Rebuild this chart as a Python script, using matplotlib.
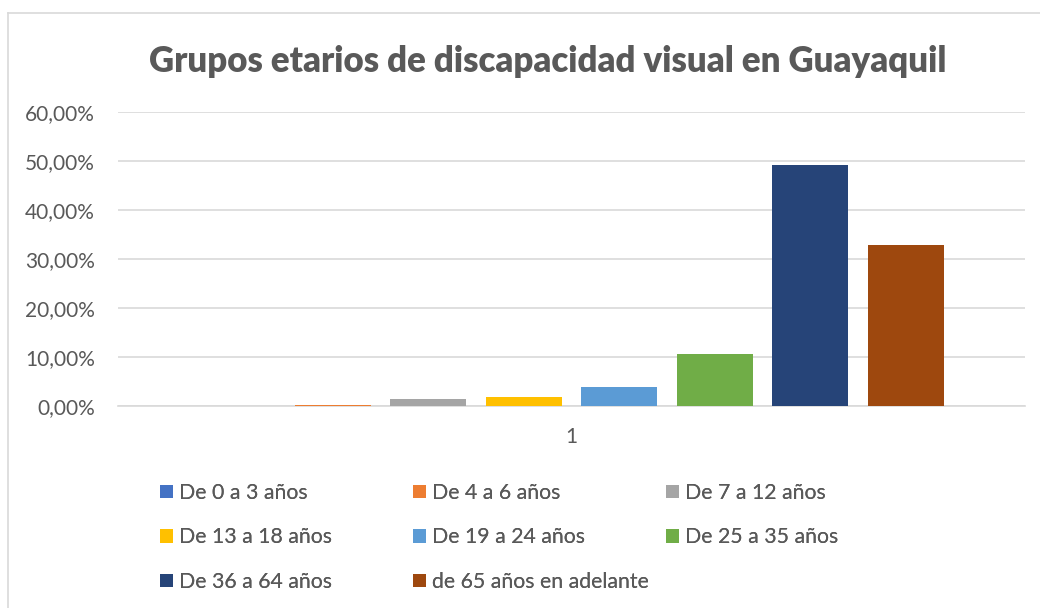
import matplotlib
matplotlib.use("Agg")
import matplotlib.pyplot as plt
from matplotlib.lines import Line2D
from matplotlib.ticker import FuncFormatter

plt.rcParams['font.family'] = ['Lato', 'DejaVu Sans']

categories = ["1"]
series_names = ["De 0 a 3 años", "De 4 a 6 años", "De 7 a 12 años", "De 13 a 18 años",
                "De 19 a 24 años", "De 25 a 35 años", "De 36 a 64 años", "de 65 años en adelante"]
values = [0.0, 0.15, 1.35, 1.75, 3.9, 10.6, 49.1, 32.8]
colors = ["#4472C4", "#ED7D31", "#A5A5A5", "#FFC000", "#5B9BD5", "#70AD47", "#264478", "#9E480E"]
yticks = [0, 10, 20, 30, 40, 50, 60]

W, H = 1040, 608
fig = plt.figure(figsize=(W/100, H/100), dpi=100)
ax = fig.add_axes([118/W, 1-406/H, (1025-118)/W, (406-112)/H])

n = len(series_names)
bw = 0.796
bars = []
for i, (name, v, c) in enumerate(zip(series_names, values, colors)):
    b = ax.bar(i - (n-1)/2, v, width=bw, color=c, label=name, zorder=3)
    bars.append(b)

half = (1025-118)/95.5/2
ax.set_xlim(-half, half)
ax.set_ylim(0, 60)
ax.set_yticks(yticks)
ax.yaxis.set_major_formatter(FuncFormatter(lambda v, p: f"{v:.2f}%".replace('.', ',')))
ax.set_xticks([0])
ax.set_xticklabels(categories)
ax.grid(axis='y', color='#D9D9D9', linewidth=1.2, zorder=0)
for s in ['top', 'right', 'left']:
    ax.spines[s].set_visible(False)
ax.spines['bottom'].set_color('#D9D9D9')
ax.spines['bottom'].set_linewidth(1.2)
ax.tick_params(axis='y', length=0, pad=16.5, labelsize=15, labelcolor='#595959')
ax.tick_params(axis='x', length=0, pad=15, labelsize=15, labelcolor='#595959')

fig.text(548/W, 1-62/H, "Grupos etarios de discapacidad visual en Guayaquil",
         ha='center', va='center', fontsize=25, fontweight='heavy', color='#595959')

# legend: three columns at fixed x positions, rows in reading order
col_x = [160, 413, 666]
for col in range(3):
    idx = list(range(col, n, 3))
    hs = [bars[i] for i in idx]
    ls = [series_names[i] for i in idx]
    leg = fig.legend(hs, ls, loc='upper left', bbox_to_anchor=(col_x[col]/W, 1-483/H),
                     frameon=False, fontsize=15.3, handlelength=0.61, handleheight=0.61,
                     handletextpad=0.28, labelspacing=1.15, borderpad=0, borderaxespad=0,
                     labelcolor='#595959')
    fig.add_artist(leg)

# outer chart frame (cropped on the right and bottom)
fig.add_artist(Line2D([8/W, 8/W], [0, 1-12.5/H], transform=fig.transFigure,
                      color='#D9D9D9', linewidth=1.2))
fig.add_artist(Line2D([8/W, 1], [1-12.5/H, 1-12.5/H], transform=fig.transFigure,
                      color='#D9D9D9', linewidth=1.2))

fig.savefig("out.png", dpi=100)
